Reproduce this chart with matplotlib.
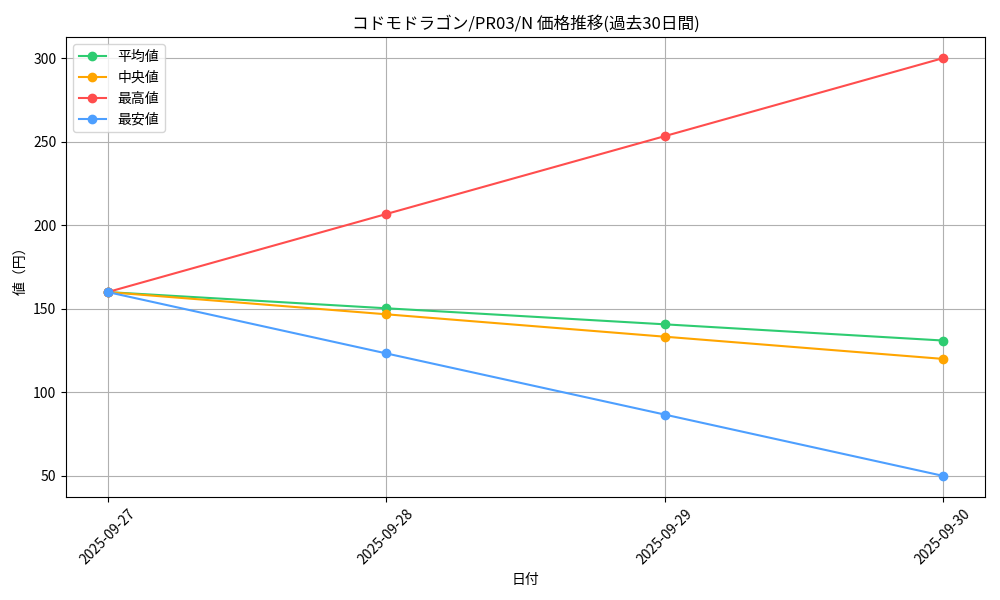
import matplotlib
matplotlib.use("Agg")
import matplotlib.pyplot as plt

plt.rcParams['font.family'] = ['Noto Sans CJK JP', 'DejaVu Sans']

dates = ["2025-09-27", "2025-09-28", "2025-09-29", "2025-09-30"]
avg_vals = [160, 150.3, 140.7, 131]
median_vals = [160, 146.7, 133.3, 120]
max_vals = [160, 206.7, 253.3, 300]
min_vals = [160, 123.3, 86.7, 50]

series = [
    ("平均値", avg_vals, "#2ecc71"),
    ("中央値", median_vals, "#ffa500"),
    ("最高値", max_vals, "#ff4d4d"),
    ("最安値", min_vals, "#4d9fff"),
]

fig, ax = plt.subplots(figsize=(10, 6), dpi=100)
x = list(range(len(dates)))
for label, vals, color in series:
    ax.plot(x, vals, marker='o', color=color, label=label, linewidth=1.5, markersize=6)

ax.set_xticks(x)
ax.set_xticklabels(dates, rotation=45)
ax.set_title("コドモドラゴン/PR03/N 価格推移(過去30日間)")
ax.set_xlabel("日付")
ax.set_ylabel("値（円）")
ax.grid(True)
ax.legend(loc='upper left')
fig.subplots_adjust(left=0.066, right=0.985, top=0.938, bottom=0.172)
fig.savefig("out.png")
